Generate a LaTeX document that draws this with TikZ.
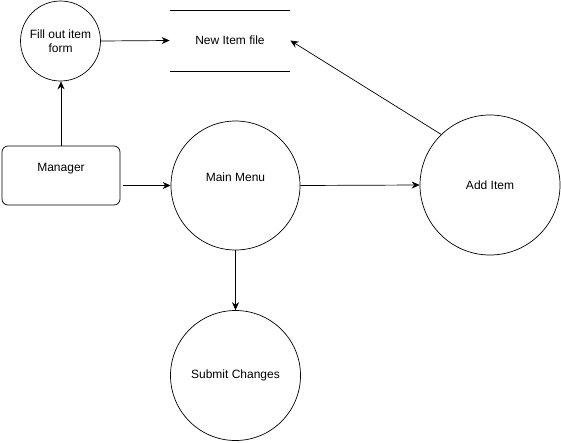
\documentclass[tikz,border=0pt]{standalone}
\usepackage{fontspec}
\setmainfont{Liberation Sans}
\usetikzlibrary{arrows.meta}

\tikzset{%
  every node/.style={
    inner sep=1pt,
    font=\fontsize{12}{14}\selectfont
  },
  proc/.style={draw, circle, inner sep=0pt, align=center},
  ext/.style={draw, rounded corners=6pt, minimum width=118pt, minimum height=59pt},
  flow/.style={-{Stealth[length=8pt,width=7pt]}}
}

\begin{document}
\begin{tikzpicture}[x=1pt,y=-1pt,line width=0.7pt]
      \useasboundingbox (0,0) rectangle (561,442);
      \node[proc, minimum size=80pt] at (60.5,41) (fill) {Fill out item\\form};
      \node[minimum width=120pt, minimum height=60pt] at (230,40.5) (store) {New Item file};
      \node[ext, text depth=16pt] at (61,175.5) (mgr) {Manager};
      \node[proc, minimum size=129pt, text depth=16pt] at (235.5,185.5) (menu) {Main Menu};
      \node[proc, minimum size=140pt] at (490,185) (add) {Add Item};
      \node[proc, minimum size=130pt] at (235.5,375.5) (submit) {Submit Changes};
      \draw (store.north west) -- (store.north east);
      \draw (store.south west) -- (store.south east);
      \draw[flow] (fill.east) -- (store.west);
      \draw[flow] (mgr.north) -- (mgr.north |- fill.south);
      \draw[flow] ([xshift=3pt]mgr.east |- menu.west) -- (menu.west);
      \draw[flow] (menu.east) -- (add.west);
      \draw[flow] (menu.south) -- (submit.north);
      \draw[flow] (add.134) -- (store.east);
    \end{tikzpicture}
\end{document}
